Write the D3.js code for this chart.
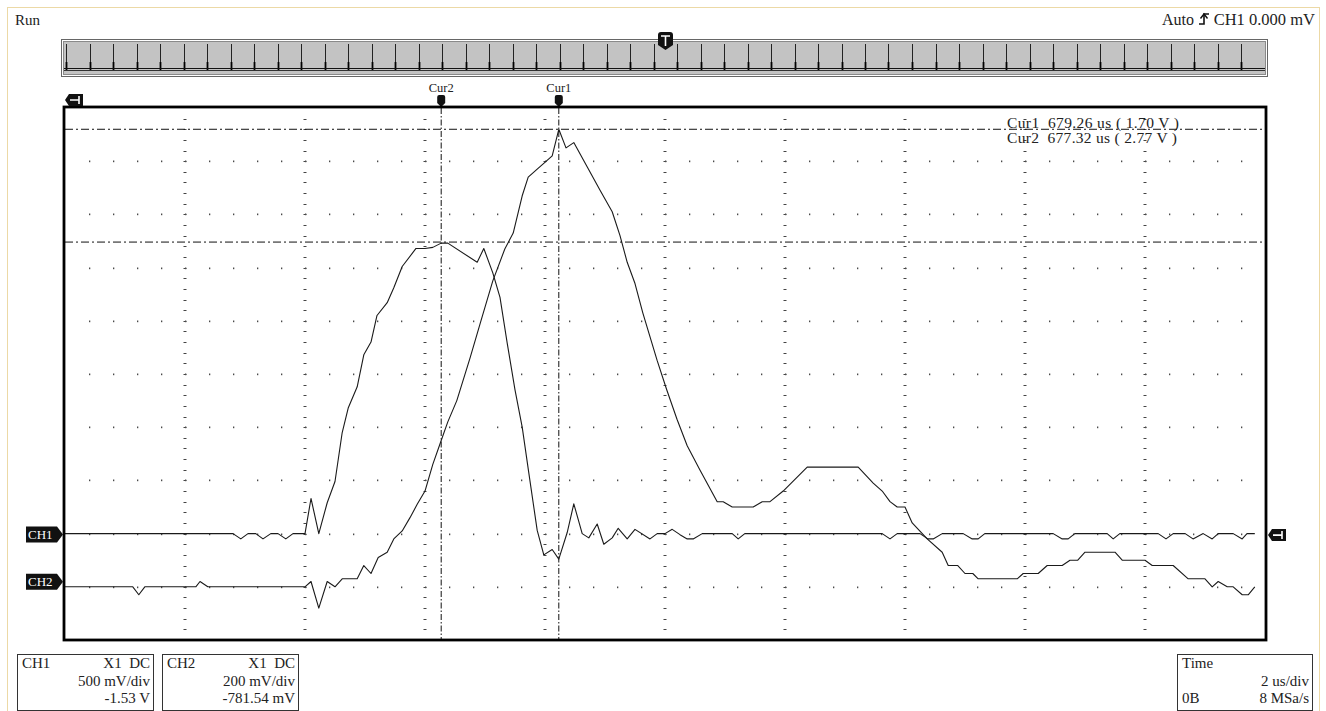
<!DOCTYPE html>
<html><head><meta charset="utf-8">
<script src="https://cdn.jsdelivr.net/npm/d3@7"></script>
<style>
html,body{margin:0;padding:0;background:#fff;}
svg{display:block;font-family:"Liberation Serif","Times New Roman",serif;}
text{white-space:pre;}
</style></head><body>
<svg id="c" width="1326" height="711"></svg>
<script>
// ---------------- data (time in us relative to trigger, voltage in V relative to channel ground) ----------------
const ch1Trace = [[-10.00,0.00],[-7.20,0.00],[-7.07,-0.05],[-6.95,0.00],[-6.82,0.00],[-6.70,-0.05],[-6.57,0.00],[-6.45,0.00],[-6.32,-0.05],[-6.20,0.00],[-6.00,0.00],[-5.90,0.33],[-5.77,0.00],[-5.63,0.29],[-5.50,0.49],[-5.38,0.95],[-5.28,1.18],[-5.13,1.38],[-5.02,1.68],[-4.90,1.80],[-4.80,2.05],[-4.63,2.17],[-4.52,2.31],[-4.38,2.51],[-4.15,2.68],[-4.00,2.68],[-3.87,2.69],[-3.73,2.73],[-3.62,2.73],[-3.13,2.55],[-3.02,2.68],[-2.87,2.45],[-2.75,2.22],[-2.63,1.79],[-2.50,1.35],[-2.38,1.00],[-2.27,0.57],[-2.13,0.03],[-2.02,-0.20],[-1.88,-0.15],[-1.77,-0.24],[-1.63,0.01],[-1.52,0.28],[-1.38,0.00],[-1.27,-0.04],[-1.13,0.09],[-1.02,-0.10],[-0.88,-0.04],[-0.78,0.05],[-0.63,-0.05],[-0.50,0.04],[-0.25,-0.05],[-0.13,0.00],[0.00,0.00],[0.12,0.04],[0.25,-0.01],[0.37,-0.05],[0.47,-0.05],[0.62,0.00],[1.12,0.00],[1.22,-0.05],[1.33,0.00],[3.62,0.00],[3.75,-0.05],[3.87,0.00],[4.25,0.00],[4.38,-0.05],[4.47,-0.05],[4.62,0.00],[4.97,0.00],[5.12,-0.05],[5.22,-0.05],[5.33,0.00],[6.47,0.00],[6.62,-0.05],[6.72,-0.05],[6.83,0.00],[7.37,0.00],[7.47,-0.05],[7.58,0.00],[8.22,0.00],[8.35,-0.05],[8.47,0.00],[8.67,0.00],[8.80,-0.05],[8.97,0.00],[9.12,-0.05],[9.22,0.00],[9.47,0.00],[9.62,-0.05],[9.70,0.00],[9.83,0.00]];
const ch2Trace = [[-10.00,0.00],[-8.87,0.00],[-8.77,-0.03],[-8.67,0.00],[-7.82,0.00],[-7.75,0.02],[-7.62,0.00],[-6.00,0.00],[-5.90,0.02],[-5.77,-0.08],[-5.63,0.02],[-5.50,0.00],[-5.38,0.03],[-5.13,0.03],[-5.02,0.08],[-4.90,0.05],[-4.78,0.11],[-4.63,0.13],[-4.52,0.18],[-4.38,0.21],[-4.25,0.26],[-4.13,0.31],[-4.00,0.36],[-3.87,0.46],[-3.73,0.55],[-3.62,0.62],[-3.47,0.70],[-3.25,0.86],[-3.08,0.99],[-2.87,1.15],[-2.67,1.27],[-2.53,1.33],[-2.38,1.47],[-2.28,1.54],[-2.13,1.57],[-2.03,1.59],[-1.88,1.62],[-1.77,1.72],[-1.65,1.65],[-1.52,1.67],[-1.30,1.58],[-1.08,1.49],[-0.88,1.41],[-0.75,1.32],[-0.63,1.22],[-0.50,1.14],[-0.37,1.03],[-0.13,0.85],[0.03,0.74],[0.20,0.63],[0.37,0.53],[0.58,0.44],[0.87,0.32],[0.97,0.32],[1.12,0.30],[1.47,0.30],[1.62,0.32],[1.75,0.32],[1.97,0.36],[2.37,0.45],[3.22,0.45],[3.47,0.39],[3.62,0.36],[3.75,0.32],[3.87,0.30],[4.00,0.30],[4.12,0.24],[4.37,0.18],[4.62,0.13],[4.72,0.08],[4.88,0.08],[5.00,0.05],[5.13,0.05],[5.22,0.03],[5.87,0.03],[5.97,0.05],[6.22,0.05],[6.37,0.08],[6.62,0.08],[6.75,0.10],[6.88,0.10],[7.00,0.13],[7.50,0.13],[7.62,0.10],[8.00,0.10],[8.12,0.08],[8.47,0.08],[8.72,0.03],[9.00,0.03],[9.12,0.00],[9.22,0.02],[9.37,0.00],[9.47,0.00],[9.62,-0.03],[9.72,-0.03],[9.83,0.00]];

const channelNames = ["CH1", "CH2"];
const voltsPerDiv = [0.5, 0.2];        // V/div
const groundPosDiv = [-3, -4];         // ground marker position, divisions from centre
const cursorNames = ["Cur1", "Cur2"];
const cursorTimes = [-1.77, -3.73];    // us
const cursorLevels = [1.72, 2.74];     // Cur1 level on CH2, Cur2 level on CH1 (V)
const cursorLevelChannel = [1, 0];
const cursorReadouts = ["Cur1  679.26 us ( 1.70 V )", "Cur2  677.32 us ( 2.77 V )"];
const panelCH = [["CH1", "X1  DC", "500 mV/div", "-1.53 V"], ["CH2", "X1  DC", "200 mV/div", "-781.54 mV"]];
const panelTime = ["Time", "2 us/div", "0B", "8 MSa/s"];
const statusText = "Run";
const triggerText = ["Auto", "CH1 0.000 mV"];

// ---------------- layout ----------------
const svg = d3.select("#c");
const P = {l: 65, r: 1265, t: 108, b: 640};
const x = d3.scaleLinear().domain([-10, 10]).range([P.l, P.r]);
const yDiv = d3.scaleLinear().domain([-5, 5]).range([P.b, P.t]);
const yCh = [0, 1].map(i => d3.scaleLinear()
  .domain([(-5 - groundPosDiv[i]) * voltsPerDiv[i], (5 - groundPosDiv[i]) * voltsPerDiv[i]])
  .range([P.b, P.t]));
const FS = 15;

// page border
svg.append("rect").attr("x", 7.5).attr("y", 7.5).attr("width", 1312).attr("height", 712)
  .attr("fill", "#fff").attr("stroke", "#ecd9a6").attr("stroke-width", 1);

// status texts
svg.append("text").attr("x", 15).attr("y", 25).attr("font-size", FS).attr("fill", "#222").text(statusText);
const trg = svg.append("g");
trg.append("text").attr("x", 1315).attr("y", 25).attr("text-anchor", "end").attr("font-size", 16.5)
  .attr("fill", "#222").text(triggerText[1]);
trg.append("text").attr("x", 1194).attr("y", 25).attr("text-anchor", "end").attr("font-size", 16).attr("fill", "#222").text(triggerText[0]);
trg.append("path").attr("d", "M1199,24 H1204 V14 H1209").attr("fill", "none").attr("stroke", "#111").attr("stroke-width", 1.6);
trg.append("path").attr("d", "M1200.5,18.5 L1204,14 L1207.5,18.5").attr("fill", "none").attr("stroke", "#111").attr("stroke-width", 1.4);

// overview strip
svg.append("rect").attr("x", 61.5).attr("y", 39.5).attr("width", 1206).attr("height", 37)
  .attr("fill", "#fff").attr("stroke", "#666");
svg.append("rect").attr("x", 63.5).attr("y", 41.5).attr("width", 1202).attr("height", 33)
  .attr("fill", "#c3c3c3").attr("stroke", "#8a8a8a");
const sx = d3.scaleLinear().domain([0, 50]).range([66, 1241]);
const strip = svg.append("g");
strip.selectAll("line.st").data(d3.range(0, 51)).join("line")
  .attr("x1", d => Math.round(sx(d)) + 0.5).attr("x2", d => Math.round(sx(d)) + 0.5)
  .attr("y1", 44).attr("y2", 70).attr("stroke", "#222").attr("stroke-width", 1);
strip.selectAll("line.sb").data(d3.range(0, 51)).join("line")
  .attr("x1", d => Math.round(sx(d)) + 0.5).attr("x2", d => Math.round(sx(d)) + 0.5)
  .attr("y1", 62).attr("y2", 70).attr("stroke", "#000").attr("stroke-width", 1.8);
strip.append("line").attr("x1", 64).attr("x2", 1265).attr("y1", 68.5).attr("y2", 68.5).attr("stroke", "#111");
strip.append("line").attr("x1", 64).attr("x2", 1265).attr("y1", 70.5).attr("y2", 70.5).attr("stroke", "#333");
// trigger position marker
svg.append("path").attr("d", "M658,35 Q658,32 661,32 H670 Q673,32 673,35 V45 L665.5,50 L658,45 Z").attr("fill", "#111");
svg.append("path").attr("d", "M661,36 H670 M665.5,36 V46").attr("stroke", "#fff").attr("stroke-width", 1.6).attr("fill", "none");

// grid
const grid = svg.append("g");
const vLines = d3.range(-4, 5).map(d => x(d * 2));
const hRows = d3.range(-4, 5).map(d => yDiv(d));
const minorY = d3.range(1, 50).map(j => P.t + j * (P.b - P.t) / 50);
const minorX = d3.range(1, 50).map(j => P.l + j * (P.r - P.l) / 50);
vLines.forEach(vx => {
  grid.selectAll(null).data(minorY).join("rect")
    .attr("x", vx - 1.5).attr("y", d => Math.round(d)).attr("width", 3).attr("height", 1).attr("fill", "#444");
});
hRows.forEach(hy => {
  grid.selectAll(null).data(minorX).join("rect")
    .attr("x", d => Math.round(d)).attr("y", Math.round(hy) - 0.5).attr("width", 1.3).attr("height", 1.7).attr("fill", "#4a4a4a");
});

// cursors
const cur = svg.append("g");
cursorTimes.forEach((t, i) => {
  cur.append("line").attr("x1", x(t)).attr("x2", x(t)).attr("y1", P.t).attr("y2", P.b)
    .attr("stroke", "#111").attr("stroke-width", 1).attr("stroke-dasharray", "6,2,1.5,2");
  cur.append("path").attr("d", `M${x(t) - 4},97 Q${x(t) - 4},95 ${x(t) - 2},95 H${x(t) + 2} Q${x(t) + 4},95 ${x(t) + 4},97 V103 L${x(t)},107 L${x(t) - 4},103 Z`).attr("fill", "#111");
  cur.append("text").attr("x", x(t)).attr("y", 92).attr("text-anchor", "middle").attr("font-size", 12.5).attr("fill", "#222").text(cursorNames[i]);
});
cursorLevels.forEach((v, i) => {
  const yy = yCh[cursorLevelChannel[i]](v);
  cur.append("line").attr("x1", P.l).attr("x2", P.r).attr("y1", yy).attr("y2", yy)
    .attr("stroke", "#111").attr("stroke-width", 1).attr("stroke-dasharray", "8,3,2,3");
});
const readoutLen = [172, 170];
cursorReadouts.forEach((s, i) => {
  cur.append("text").attr("x", 1007).attr("y", 128 + i * 15).attr("font-size", FS + 0.5)
    .attr("textLength", readoutLen[i]).attr("lengthAdjust", "spacing").attr("fill", "#222").text(s);
});

// traces
[ch1Trace, ch2Trace].forEach((tr, i) => {
  const line = d3.line().x(d => x(d[0])).y(d => yCh[i](d[1]));
  svg.append("path").datum(tr).attr("d", line).attr("fill", "none").attr("stroke", "#1a1a1a").attr("stroke-width", 1.1).attr("stroke-linejoin", "round");
});

// frame
svg.append("rect").attr("x", P.l - 1).attr("y", P.t - 1).attr("width", P.r - P.l + 2).attr("height", P.b - P.t + 1)
  .attr("fill", "none").attr("stroke", "#000").attr("stroke-width", 2.8);

// horizontal position marker (top-left) and trigger level marker (right)
function posMarker(tipX, cy) {
  svg.append("path").attr("d", `M${tipX},${cy} L${tipX + 4},${cy - 6} H${tipX + 18} V${cy + 6} H${tipX + 4} Z`).attr("fill", "#111");
  svg.append("path").attr("d", `M${tipX + 5},${cy} H${tipX + 14} M${tipX + 14},${cy - 4} V${cy + 4}`).attr("stroke", "#fff").attr("stroke-width", 1.6).attr("fill", "none");
}
posMarker(65, 100);
posMarker(1268, yCh[0](0) + 1.5);

// channel ground tags
channelNames.forEach((n, i) => {
  const cy = i === 0 ? yCh[0](0) + 1 : yCh[1](0) - 5;
  svg.append("path").attr("d", `M26,${cy - 8} H57 L63,${cy} L57,${cy + 8} H26 Z`).attr("fill", "#111");
  svg.append("text").attr("x", 28).attr("y", cy + 4.5).attr("font-size", 13).attr("fill", "#fff").text(n);
});

// info panels
const boxes = [{x: 17, w: 136}, {x: 162, w: 136}];
panelCH.forEach((p, i) => {
  const b = boxes[i];
  const g = svg.append("g");
  g.append("rect").attr("x", b.x + 0.5).attr("y", 654.5).attr("width", b.w).attr("height", 56).attr("fill", "#fff").attr("stroke", "#333");
  g.append("text").attr("x", b.x + 5).attr("y", 668).attr("font-size", FS).attr("fill", "#222").text(p[0]);
  g.append("text").attr("x", b.x + b.w - 3).attr("y", 668).attr("text-anchor", "end").attr("font-size", FS).attr("fill", "#222").text(p[1]);
  g.append("text").attr("x", b.x + b.w - 3).attr("y", 686).attr("text-anchor", "end").attr("font-size", FS).attr("fill", "#222").text(p[2]);
  g.append("text").attr("x", b.x + b.w - 3).attr("y", 703).attr("text-anchor", "end").attr("font-size", FS).attr("fill", "#222").text(p[3]);
});
{
  const g = svg.append("g");
  g.append("rect").attr("x", 1177.5).attr("y", 654.5).attr("width", 135).attr("height", 56).attr("fill", "#fff").attr("stroke", "#333");
  g.append("text").attr("x", 1182).attr("y", 668).attr("font-size", FS).attr("fill", "#222").text(panelTime[0]);
  g.append("text").attr("x", 1309).attr("y", 686).attr("text-anchor", "end").attr("font-size", FS).attr("fill", "#222").text(panelTime[1]);
  g.append("text").attr("x", 1182).attr("y", 703).attr("font-size", FS).attr("fill", "#222").text(panelTime[2]);
  g.append("text").attr("x", 1309).attr("y", 703).attr("text-anchor", "end").attr("font-size", FS).attr("fill", "#222").text(panelTime[3]);
}
</script>
</body></html>
